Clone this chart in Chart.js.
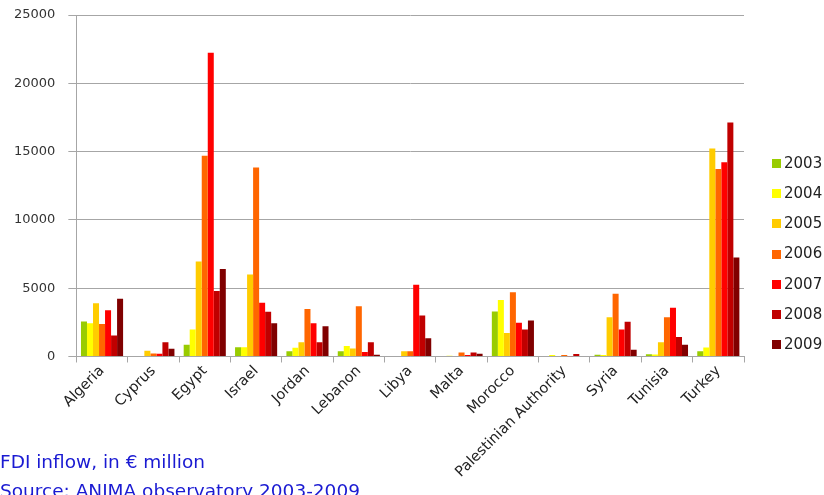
<!DOCTYPE html>
<html>
<head>
<meta charset="utf-8">
<title>FDI inflow in MED countries, 2003-2009</title>
<script src="https://cdn.jsdelivr.net/npm/chart.js@4.4.1/dist/chart.umd.min.js"></script>
<style>
  html, body { margin: 0; padding: 0; background: #fff; overflow: hidden; }
  #wrap { position: relative; width: 824px; height: 495px; }
  #chart { position: absolute; left: 0; top: 0; }
  .note {
    position: absolute; left: 0; margin: 0; white-space: nowrap;
    font-family: "DejaVu Sans", sans-serif; font-size: 18.5px; line-height: 20px;
    color: #1a1ad2;
  }
</style>
</head>
<body>
<div id="wrap">
  <canvas id="chart" width="824" height="495"></canvas>
  <div class="note" style="top:452px">FDI inflow, in € million</div>
  <div class="note" style="top:481px">Source: ANIMA observatory 2003-2009</div>
</div>
<script>
// Countries on the category axis
const countries = ['Algeria', 'Cyprus', 'Egypt', 'Israel', 'Jordan', 'Lebanon', 'Libya',
  'Malta', 'Morocco', 'Palestinian Authority', 'Syria', 'Tunisia', 'Turkey'];

// Years shown as series
const years = ['2003', '2004', '2005', '2006', '2007', '2008', '2009'];

// FDI inflow per country, € million (same order as countries)
const fdi2003 = [2570, 0, 860, 680, 390, 390, 0, 0, 3300, 0, 120, 170, 390];
const fdi2004 = [2440, 0, 1980, 680, 640, 760, 0, 60, 4130, 100, 100, 150, 660];
const fdi2005 = [3890, 420, 6960, 6010, 1050, 590, 390, 0, 1710, 0, 2880, 1050, 15230];
const fdi2006 = [2370, 220, 14690, 13830, 3470, 3670, 390, 290, 4710, 100, 4600, 2880, 13730];
const fdi2007 = [3390, 200, 22240, 3940, 2440, 320, 5260, 100, 2470, 20, 1980, 3570, 14220];
const fdi2008 = [1540, 1050, 4790, 3280, 1050, 1050, 3000, 290, 1980, 180, 2540, 1420, 17130];
const fdi2009 = [4230, 560, 6400, 2440, 2220, 120, 1340, 200, 2640, 0, 490, 860, 7240];

// Value axis ticks
const yTicks = [0, 5000, 10000, 15000, 20000, 25000];

const seriesValues = [fdi2003, fdi2004, fdi2005, fdi2006, fdi2007, fdi2008, fdi2009];
const seriesColors = ['#99cc00', '#ffff00', '#ffcc00', '#ff6600', '#ff0000', '#c00000', '#800000'];

const FONT = '"DejaVu Sans", Verdana, sans-serif';
const GRID = '#a6a6a6';

// Legend stacked to the right of the plot
const sideLegend = {
  id: 'sideLegend',
  afterDraw(chart) {
    const ctx = chart.ctx;
    ctx.save();
    ctx.font = '15px ' + FONT;
    ctx.textBaseline = 'middle';
    ctx.textAlign = 'left';
    chart.data.datasets.forEach((ds, i) => {
      const cy = 163 + i * 30.2;
      ctx.fillStyle = ds.backgroundColor;
      ctx.fillRect(772, Math.round(cy - 4), 9, 9);
      ctx.fillStyle = '#222';
      ctx.fillText(ds.label, 784, cy + 1);
    });
    ctx.restore();
  }
};

new Chart(document.getElementById('chart'), {
  type: 'bar',
  data: {
    labels: countries,
    datasets: years.map((y, i) => ({
      label: y,
      data: seriesValues[i],
      backgroundColor: seriesColors[i],
      borderWidth: 0,
      categoryPercentage: 0.82,
      barPercentage: 1.0
    }))
  },
  options: {
    responsive: false,
    animation: false,
    devicePixelRatio: 1,
    layout: { padding: { left: 1, right: 80, top: 15, bottom: 14 } },
    plugins: {
      legend: { display: false },
      tooltip: { enabled: false }
    },
    scales: {
      y: {
        min: 0,
        max: 25000,
        afterBuildTicks(scale) { scale.ticks = yTicks.map(v => ({ value: v })); },
        // top label may overhang the plot edge; keep plot top fixed by layout padding
        afterFit(scale) { scale.paddingTop = 0; scale.paddingBottom = 0; },
        ticks: {
          font: { family: FONT, size: 13 }, color: '#333', padding: 13,
          callback: v => String(v)
        },
        grid: { color: GRID, lineWidth: 1, tickLength: 8 },
        border: { color: GRID, width: 1 }
      },
      x: {
        ticks: {
          font: { family: FONT, size: 14.5 }, color: '#222',
          minRotation: 45, maxRotation: 45, autoSkip: false, padding: 0
        },
        grid: { drawOnChartArea: false, color: GRID, tickLength: 6, offset: true },
        border: { color: GRID, width: 1 }
      }
    }
  },
  plugins: [sideLegend]
});
</script>
</body>
</html>
